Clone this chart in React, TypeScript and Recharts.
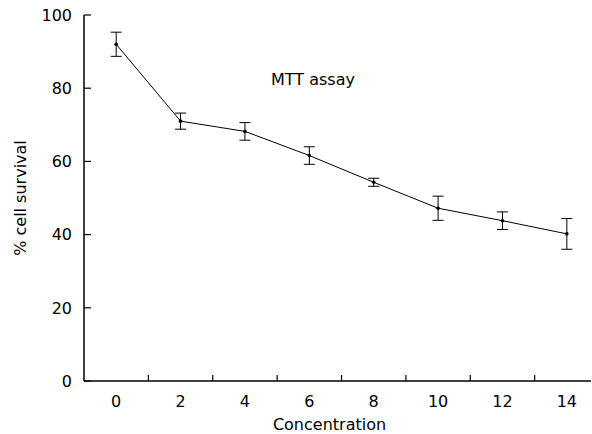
import React from 'react';
import { LineChart, Line, XAxis, YAxis, ErrorBar, Label } from 'recharts';

const concentrations = [0, 2, 4, 6, 8, 10, 12, 14];
const survival = [92, 71, 68.2, 61.6, 54.3, 47.2, 43.8, 40.2];
const sdErrors = [3.3, 2.2, 2.4, 2.4, 1.1, 3.3, 2.4, 4.2];
const xTicks = [0, 1, 2, 3, 4, 5, 6, 7, 8, 9, 10, 11, 12, 13, 14];
const yTicks = [0, 20, 40, 60, 80, 100];

const data = concentrations.map((c, i) => ({ conc: c, value: survival[i], err: sdErrors[i] }));

const font = '"DejaVu Sans", Verdana, sans-serif';

// odd values only get a small inward tick, even values get a label
const XTick = (props: any) => {
  const { x, y, payload } = props;
  if (payload.value % 2 === 1) {
    return <line x1={x} x2={x} y1={y} y2={y - 6} stroke="#000" strokeWidth={1.2} />;
  }
  return (
    <text x={x} y={y + 26} textAnchor="middle" fontSize={16} fontFamily={font} fill="#000">
      {payload.value}
    </text>
  );
};

const YTick = (props: any) => {
  const { x, y, payload } = props;
  return (
    <g>
      <line x1={x + 12} x2={x + 19} y1={y} y2={y} stroke="#000" strokeWidth={1.2} />
      <text x={x} y={y} dy="0.36em" textAnchor="end" fontSize={16} fontFamily={font} fill="#000">
        {payload.value}
      </text>
    </g>
  );
};

export default function App() {
  return (
    <div style={{ position: 'absolute', left: 0, top: 0, width: 592, height: 434, background: '#fff' }}>
      <LineChart width={592} height={434} data={data} margin={{ top: 15, right: 1, left: 0, bottom: 0 }}>
        <XAxis
          dataKey="conc"
          type="number"
          domain={[-1, 14.75]}
          ticks={xTicks}
          interval={0}
          tickLine={false}
          tickSize={0}
          tickMargin={0}
          height={53}
          axisLine={{ stroke: '#000', strokeWidth: 1.5 }}
          tick={<XTick />}
        >
          <Label
            content={({ viewBox }: any) => (
              <text x={viewBox.x + viewBox.width / 2 - 8} y={viewBox.y + 49} textAnchor="middle" fontSize={16} fontFamily={font} fill="#000">
                Concentration
              </text>
            )}
          />
        </XAxis>
        <YAxis
          type="number"
          domain={[0, 100]}
          ticks={yTicks}
          width={84}
          tickLine={false}
          tickSize={0}
          tickMargin={12}
          axisLine={{ stroke: '#000', strokeWidth: 1.5 }}
          tick={<YTick />}
        >
          <Label
            content={({ viewBox }: any) => (
              <text
                transform={`translate(${viewBox.x + 20}, ${viewBox.y + viewBox.height / 2}) rotate(-90)`}
                textAnchor="middle"
                dy="0.36em"
                fontSize={16}
                fontFamily={font}
                fill="#000"
              >
                % cell survival
              </text>
            )}
          />
        </YAxis>
        <Line
          dataKey="value"
          stroke="#000"
          strokeWidth={1}
          dot={{ r: 1.8, fill: '#000', stroke: '#000', strokeWidth: 0 }}
          isAnimationActive={false}
        >
          <ErrorBar dataKey="err" width={5.5} stroke="#000" strokeWidth={1} direction="y" />
        </Line>
      </LineChart>
      <div style={{ position: 'absolute', left: 271, top: 72, fontFamily: font, fontSize: 16, lineHeight: '16px', color: '#000' }}>
        MTT assay
      </div>
    </div>
  );
}
